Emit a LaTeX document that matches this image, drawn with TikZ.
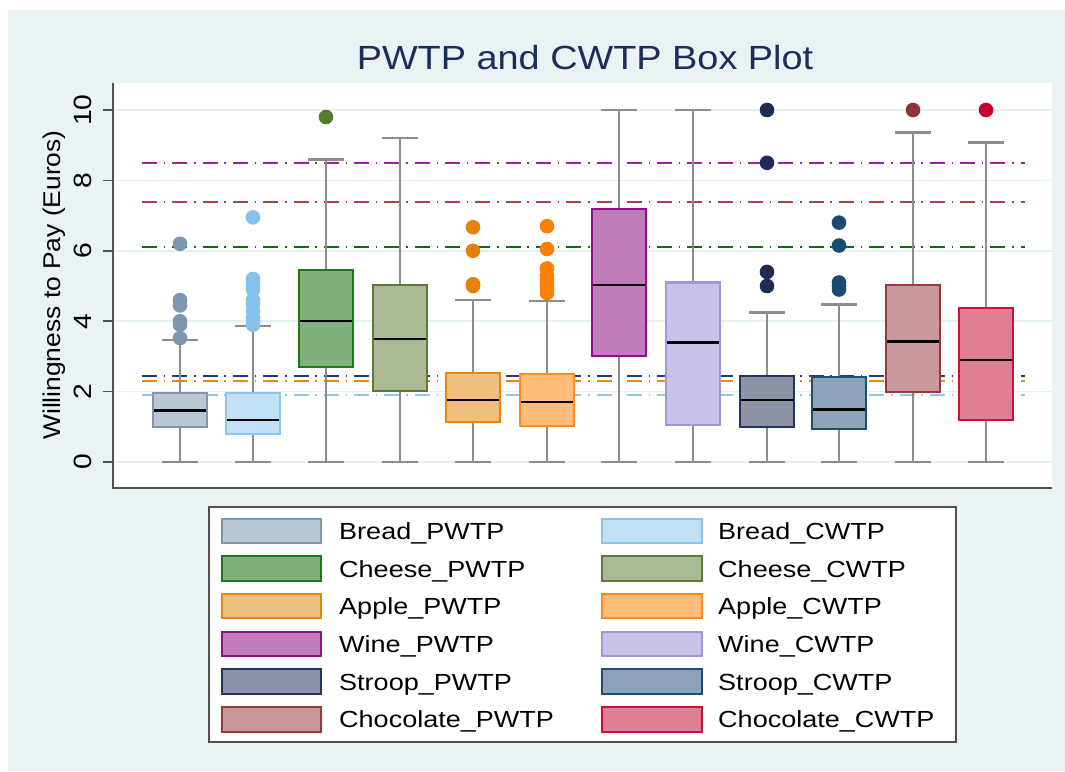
\documentclass[tikz,border=0pt]{standalone}
\usepackage{fontspec}
\setmainfont{Liberation Sans}
\usepackage{graphicx}

% Stata-style stretched lettering
\newcommand\wide[1]{\scalebox{1.13}[1]{#1}}
\newcommand\legwide[1]{\scalebox{1.16}[1]{#1}}

% panel and axes
\definecolor{panelbg}{HTML}{EAF2F3}
\definecolor{gridc}{HTML}{E6EFF1}
\definecolor{axisc}{HTML}{505050}
\definecolor{whiskc}{HTML}{8C8C8C}
\definecolor{titlec}{HTML}{1F2D5A}
% box fills and outlines
\definecolor{fBP}{HTML}{B9C6D4}\definecolor{dBP}{HTML}{7F96B0}
\definecolor{fBC}{HTML}{C2E0F4}\definecolor{dBC}{HTML}{8CC4EC}
\definecolor{fCP}{HTML}{80B07C}\definecolor{dCP}{HTML}{1C7A1C}
\definecolor{fCC}{HTML}{A9B993}\definecolor{dCC}{HTML}{5C7B38}
\definecolor{fAP}{HTML}{F0BF7F}\definecolor{dAP}{HTML}{E8850F}
\definecolor{fAC}{HTML}{FFBD7C}\definecolor{dAC}{HTML}{FF8A1E}
\definecolor{fWP}{HTML}{C07CBC}\definecolor{dWP}{HTML}{920E8C}
\definecolor{fWC}{HTML}{C9C4E7}\definecolor{dWC}{HTML}{A296DA}
\definecolor{fSP}{HTML}{8C93A7}\definecolor{dSP}{HTML}{26335A}
\definecolor{fSC}{HTML}{8BA4B9}\definecolor{dSC}{HTML}{1E4C72}
\definecolor{fKP}{HTML}{C8989A}\definecolor{dKP}{HTML}{99393F}
\definecolor{fKC}{HTML}{E07E94}\definecolor{dKC}{HTML}{C8123C}
% outlier markers
\definecolor{oBP}{HTML}{7F96B0}
\definecolor{oBC}{HTML}{85C1EA}
\definecolor{oCP}{HTML}{557B2F}
\definecolor{oAP}{HTML}{E5820C}
\definecolor{oAC}{HTML}{FF8000}
\definecolor{oSP}{HTML}{1F2A55}
\definecolor{oSC}{HTML}{1B4A74}
\definecolor{oKP}{HTML}{8F3138}
\definecolor{oKC}{HTML}{C8002F}
% reference lines
\definecolor{rPur}{HTML}{A020A0}
\definecolor{rRed}{HTML}{A0474A}
\definecolor{rGrn}{HTML}{0A6E0A}
\definecolor{rNav}{HTML}{2B3A67}
\definecolor{rOrg}{HTML}{E8891C}
\definecolor{rBlu}{HTML}{90C6EC}

\begin{document}
\begin{tikzpicture}[x=1pt,y=-1pt,
  gridline/.style={draw=gridc,line width=1.5pt},
  axisline/.style={draw=axisc,line width=1.5pt},
  refline/.style={line width=2pt,dash pattern=on 15pt off 6.8pt on 1.5pt off 7pt},
  whisker/.style={draw=whiskc,line width=2.6pt},
  boxoutline/.style={line width=2.2pt},
  medianline/.style={draw=black,line width=2.6pt},
  ticklabel/.style={rotate=90,anchor=base,font=\fontsize{25}{30}\selectfont,inner sep=0pt},
  legtext/.style={anchor=base west,font=\fontsize{23.3}{28}\selectfont,inner sep=0pt},
  swatch/.style={line width=2pt}]

\useasboundingbox (0,0) rectangle (1065,771);
\fill[white] (0,0) rectangle (1065,771);
\fill[panelbg] (8,10) rectangle (1065,771);
\fill[white] (113,83) rectangle (1052,488);

\node[anchor=base,text=titlec,font=\fontsize{33.5}{40}\selectfont,inner sep=0pt] (title) at (585,69) {\wide{PWTP and CWTP Box Plot}};
\node[rotate=90,anchor=base,font=\fontsize{24.2}{29}\selectfont,inner sep=0pt] (ylabel) at (60,285) {\scalebox{1.09}[1]{Willingness to Pay (Euros)}};

% value axis: v units upward, origin at v = 0
\begin{scope}[yshift=-462pt,y=35.2pt]
  \foreach \v in {0,2,...,10}{
    \draw[gridline] (113,\v) -- (1052,\v);
    \draw[axisline] (103,\v) -- (113,\v);
    \node[ticklabel] (tick\v) at (91,\v) {\wide{\v}};
  }

  % mean reference lines
  \foreach \v/\c in {8.49/rPur,7.38/rRed,6.1/rGrn,2.44/rNav,2.3/rOrg,1.9/rBlu}
    \draw[refline,draw=\c] (142,\v) -- (1025,\v);

  % boxes: centre / lower whisker / q1 / median / q3 / upper whisker / fill / outline
  \foreach \x/\lo/\qa/\md/\qb/\hi/\fc/\dc in {
      180/0/1.00/1.46/1.97/3.47/fBP/dBP,
      253/0/0.80/1.19/1.97/3.86/fBC/dBC,
      326/0/2.70/4.01/5.45/8.60/fCP/dCP,
      400/0/2.02/3.50/5.03/9.20/fCC/dCC,
      473/0/1.13/1.76/2.52/4.60/fAP/dAP,
      547/0/1.02/1.71/2.49/4.57/fAC/dAC,
      619/0/3.02/5.03/7.18/10/fWP/dWP,
      693/0/1.05/3.39/5.10/10/fWC/dWC,
      767/0/1.00/1.76/2.45/4.24/fSP/dSP,
      839/0/0.93/1.50/2.42/4.48/fSC/dSC,
      913/0/2.00/3.42/5.03/9.36/fKP/dKP,
      986/0/1.19/2.90/4.37/9.08/fKC/dKC}{
    \draw[whisker] (\x,\lo) -- (\x,\qa);
    \draw[whisker] (\x,\qb) -- (\x,\hi);
    \draw[whisker] ({\x-18},\lo) -- ({\x+18},\lo);
    \draw[whisker] ({\x-18},\hi) -- ({\x+18},\hi);
    \draw[boxoutline,fill=\fc,draw=\dc] ({\x-27},\qa) rectangle ({\x+27},\qb);
    \draw[medianline] ({\x-26},\md) -- ({\x+26},\md);
  }

  % outside values
  \foreach \x/\v/\c in {
      180/3.52/oBP,180/3.9/oBP,180/4.0/oBP,180/4.45/oBP,180/4.6/oBP,180/6.2/oBP,
      253/3.9/oBC,253/4.0/oBC,253/4.1/oBC,253/4.3/oBC,253/4.5/oBC,253/4.6/oBC,
      253/4.9/oBC,253/5.0/oBC,253/5.1/oBC,253/5.2/oBC,253/6.95/oBC,
      326/9.8/oCP,
      473/5.0/oAP,473/5.05/oAP,473/6.0/oAP,473/6.67/oAP,
      547/4.8/oAC,547/4.9/oAC,547/5.0/oAC,547/5.1/oAC,547/5.2/oAC,547/5.3/oAC,
      547/5.5/oAC,547/6.05/oAC,547/6.7/oAC,
      767/5.0/oSP,767/5.4/oSP,767/8.5/oSP,767/10/oSP,
      839/4.9/oSC,839/5.0/oSC,839/5.1/oSC,839/6.15/oSC,839/6.8/oSC,
      913/10/oKP,
      986/10/oKC}
    \fill[\c] (\x,\v) circle[radius=7.3pt];
\end{scope}

% axes
\draw[axisline] (113,83) -- (113,488) -- (1052,488);

% legend
\draw[draw=axisc,line width=1.5pt,fill=white] (209,507) rectangle (956,742);
\foreach \i/\nm/\fc/\dc in {
    0/Bread\_PWTP/fBP/dBP,
    1/Cheese\_PWTP/fCP/dCP,
    2/Apple\_PWTP/fAP/dAP,
    3/Wine\_PWTP/fWP/dWP,
    4/Stroop\_PWTP/fSP/dSP,
    5/Chocolate\_PWTP/fKP/dKP}{
  \draw[swatch,fill=\fc,draw=\dc] (222,{518.5+37.7*\i}) rectangle (321,{543+37.7*\i});
  \node[legtext] (legP\i) at (339,{539.3+37.7*\i}) {\legwide{\nm}};
}
\foreach \i/\nm/\fc/\dc in {
    0/Bread\_CWTP/fBC/dBC,
    1/Cheese\_CWTP/fCC/dCC,
    2/Apple\_CWTP/fAC/dAC,
    3/Wine\_CWTP/fWC/dWC,
    4/Stroop\_CWTP/fSC/dSC,
    5/Chocolate\_CWTP/fKC/dKC}{
  \draw[swatch,fill=\fc,draw=\dc] (602,{518.5+37.7*\i}) rectangle (702,{543+37.7*\i});
  \node[legtext] (legC\i) at (718,{539.3+37.7*\i}) {\legwide{\nm}};
}
\end{tikzpicture}
\end{document}
